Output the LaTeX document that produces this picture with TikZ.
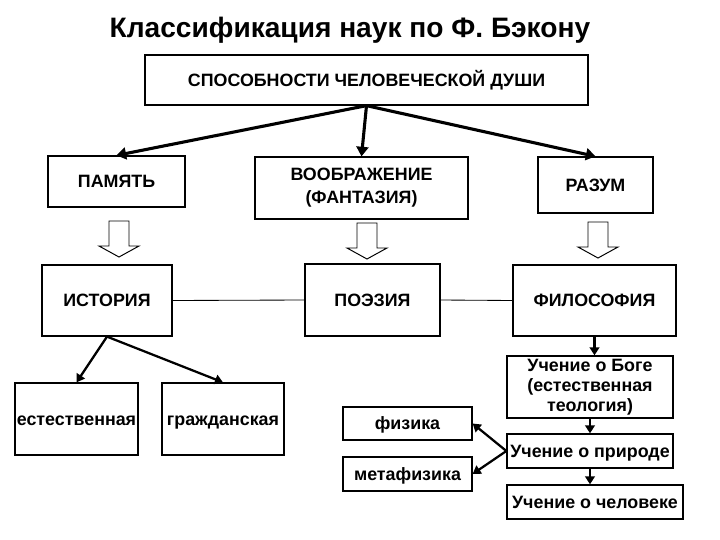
\documentclass[tikz,border=0pt]{standalone}
\usepackage{fontspec}
\setmainfont{Liberation Sans}
\usetikzlibrary{arrows.meta}
\begin{document}
\begin{tikzpicture}[x=0.25mm,y=-0.25mm,
  font=\bfseries\fontsize{12.7}{15}\selectfont,
  frame/.style={rectangle, draw=black, line width=0.9pt, fill=white, inner sep=0pt, align=center},
  box/.style={frame, text height=9.1pt, text depth=0pt},
  hollowarrow/.pic={\draw [line width=0.7pt, fill=white] (-10,0) -- (10,0) -- (10,25) -- (20,25) -- (0,36) -- (-20,25) -- (-10,25) -- cycle;},
  thick arrow/.style={line width=2.2pt, -{Triangle[length=2.4mm,width=3mm]}},
  thin arrow/.style={line width=1.6pt, -{Triangle[length=2mm,width=2.4mm]}}]
\useasboundingbox (0,0) rectangle (720,540);
\node [font=\bfseries\fontsize{20}{24}\selectfont, anchor=base] (title) at (350,37) {Классификация наук по Ф. Бэкону};
\node [box, minimum width=110.75mm, minimum height=12.5mm] (soul) at (366.5,80) {СПОСОБНОСТИ ЧЕЛОВЕЧЕСКОЙ ДУШИ};
\node [box, minimum width=34.25mm, minimum height=12.75mm] (memory) at (116.5,181.5) {ПАМЯТЬ};
\node [frame, minimum width=53.25mm, minimum height=15.5mm, font=\bfseries\fontsize{12.7}{16.3}\selectfont] (fancy) at (361.5,188) {ВООБРАЖЕНИЕ\\(ФАНТАЗИЯ)};
\node [box, minimum width=28.75mm, minimum height=14mm] (reason) at (595.5,185) {РАЗУМ};
\pic (h1) at (119,221) {hollowarrow};
\pic (h2) at (367,223) {hollowarrow};
\pic (h3) at (598,222) {hollowarrow};
\node [box, minimum width=32.5mm, minimum height=17.75mm] (history) at (107,300.5) {ИСТОРИЯ};
\node [box, minimum width=33.75mm, minimum height=18mm] (poetry) at (372.5,300) {ПОЭЗИЯ};
\node [box, minimum width=40.75mm, minimum height=17.75mm] (philo) at (594.5,300.5) {ФИЛОСОФИЯ};
\node [box, minimum width=30.75mm, minimum height=18mm] (natural) at (76.5,419) {естественная};
\node [box, minimum width=30.5mm, minimum height=18mm] (civil) at (223,419) {гражданская};
\node [box, minimum width=32.25mm, minimum height=8.25mm] (physics) at (407.5,423.5) {физика};
\node [box, minimum width=32.25mm, minimum height=8.5mm] (meta) at (407.5,474) {метафизика};
\node [frame, minimum width=41.5mm, minimum height=15.5mm, font=\bfseries\fontsize{12.7}{14.2}\selectfont] (god) at (590,387) {Учение о Боге\\(естественная\\теология)};
\node [box, minimum width=41.5mm, minimum height=8.5mm] (nature) at (590,451) {Учение о природе};
\node [box, minimum width=44mm, minimum height=8.5mm] (man) at (595,502) {Учение о человеке};
\draw [thick arrow] (soul.south) -- (memory.north);
\draw [thick arrow] (soul.south) -- (fancy.north);
\draw [thick arrow] (soul.south) -- (reason.north);
\draw [line width=0.6pt] (history.east) -- (poetry.west);
\draw [line width=0.6pt] (poetry.east) -- (philo.west);
\draw [thin arrow] (history.south) -- (natural.north);
\draw [thin arrow] (history.south) -- (civil.north);
\draw [thin arrow] (philo.south) -- (philo.south |- god.north);
\draw [thin arrow] (god.south) -- (nature.north);
\draw [thin arrow] (nature.south) -- (nature.south |- man.north);
\draw [thin arrow] (nature.west) -- (physics.east);
\draw [thin arrow] (nature.west) -- (meta.east);
\end{tikzpicture}
\end{document}
